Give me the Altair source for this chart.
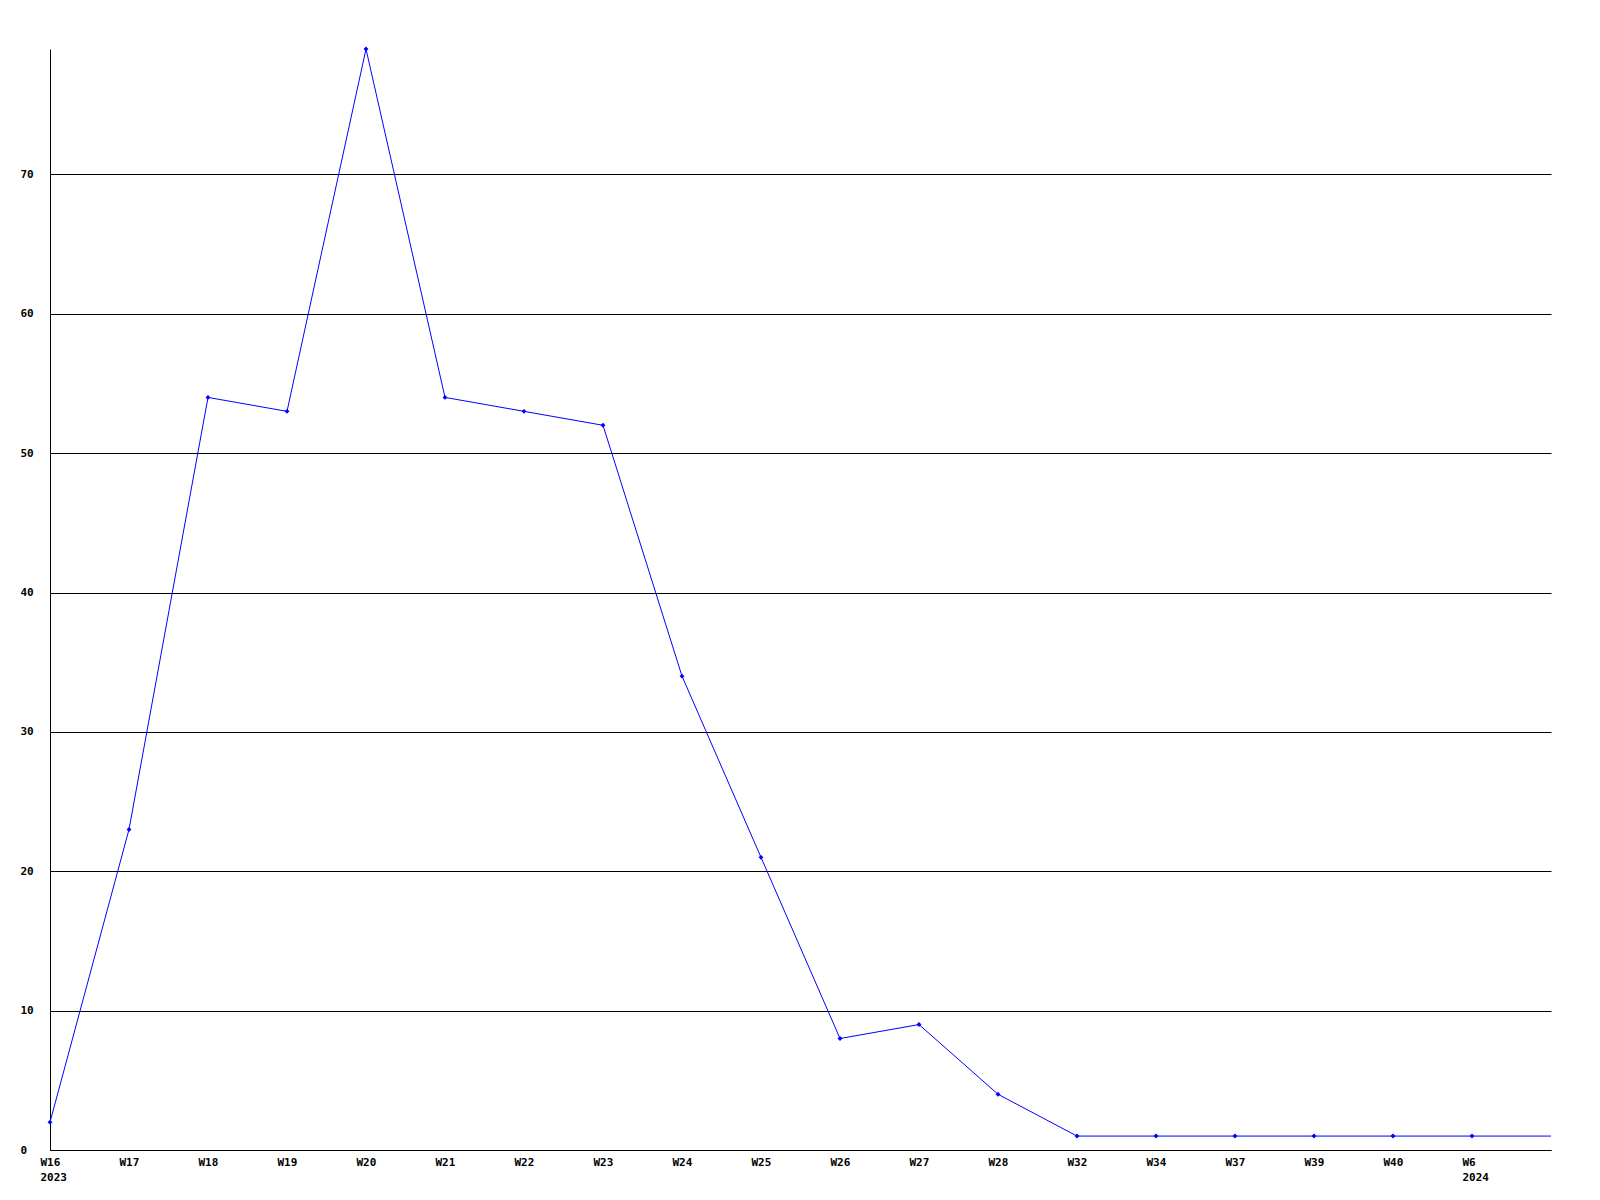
import altair as alt
import pandas as pd
import json

weeks = ["W16", "W17", "W18", "W19", "W20", "W21", "W22", "W23", "W24", "W25",
         "W26", "W27", "W28", "W32", "W34", "W37", "W39", "W40", "W6"]
years = ["2023", "", "", "", "", "", "", "", "", "", "", "", "", "", "", "", "", "", "2024"]
values = [2, 23, 54, 53, 79, 54, 53, 52, 34, 21, 8, 9, 4, 1, 1, 1, 1, 1, 1]
tail_value = 1  # line continues to the plot's right edge

idx = list(range(len(weeks)))
pts = pd.DataFrame({"i": idx, "v": values})
line_df = pd.DataFrame({"i": idx + [len(weeks)], "v": values + [tail_value]})

label_arr = [[w, y] if y else w for w, y in zip(weeks, years)]
label_expr = json.dumps(label_arr) + "[datum.value]"

FONT = "DejaVu Sans Mono"

x = alt.X("i:Q", scale=alt.Scale(domain=[0, len(weeks)], nice=False, zero=False),
          axis=alt.Axis(values=idx, labelExpr=label_expr, title=None, grid=False,
                        ticks=False, tickSize=0, labelAlign="left", labelOffset=-10,
                        labelBaseline="top", labelPadding=6, labelLineHeight=15,
                        labelFont=FONT, labelFontSize=11, labelFontWeight="bold",
                        labelColor="black", domainColor="black", domainWidth=1,
                        labelOverlap=False, labelFlush=False, labelBound=False))
y = alt.Y("v:Q", scale=alt.Scale(domain=[0, 79], nice=False),
          axis=alt.Axis(values=[0, 10, 20, 30, 40, 50, 60, 70], title=None, grid=True,
                        gridColor="black", gridWidth=1, gridOpacity=1,
                        ticks=False, tickSize=0, labelAlign="left", labelPadding=30,
                        labelBaseline="middle",
                        labelFont=FONT, labelFontSize=11, labelFontWeight="bold",
                        labelColor="black", domainColor="black", domainWidth=1,
                        labelOverlap=False, labelFlush=False))

line = alt.Chart(line_df).mark_line(color="#0000ff", strokeWidth=1).encode(x=x, y=y)
dots = alt.Chart(pts).mark_point(shape="diamond", filled=True, color="#0000ff",
                                  size=24, opacity=1).encode(x="i:Q", y="v:Q")

chart = alt.layer(line, dots).properties(
    width=1501, height=1101,
    background="white",
    autosize=alt.AutoSizeParams(type="none"),
    padding={"left": 42, "top": 41, "right": 40, "bottom": 40},
).configure_view(strokeWidth=0, stroke="transparent")

chart.save("out.html", embed_options={"renderer": "svg", "actions": False})
